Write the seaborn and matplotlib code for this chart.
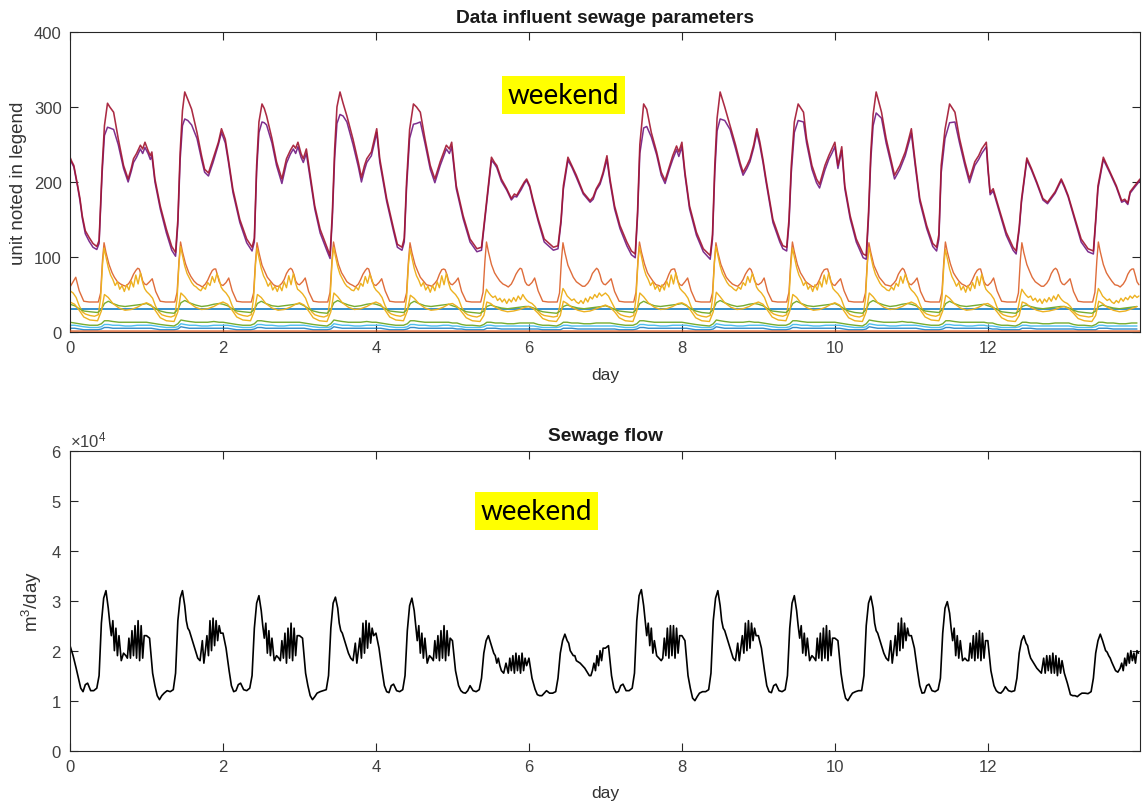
import matplotlib
matplotlib.use("Agg")
import matplotlib.pyplot as plt
import seaborn as sns
import pandas as pd
from matplotlib.ticker import ScalarFormatter

sns.set_theme(style="white")
plt.rcParams['font.family'] = ['Liberation Sans', 'DejaVu Sans']
plt.rcParams['mathtext.fontset'] = 'custom'
plt.rcParams['mathtext.rm'] = 'Liberation Sans'
plt.rcParams['mathtext.it'] = 'Liberation Sans:italic'

# ---------------------------------------------------------------- data
DAY_INDEX = list(range(14))
X_TICKS = [0, 2, 4, 6, 8, 10, 12]
TOP_Y_TICKS = [0, 100, 200, 300, 400]
FLOW_Y_TICKS = [0, 10000, 20000, 30000, 40000, 50000, 60000]
SI_CONST = 30

# dark red / maroon series (explicit day, value points)
MAROON_T = [
    [0.00, 0.02, 0.05, 0.10, 0.13, 0.16, 0.20, 0.25, 0.30, 0.35, 0.38, 0.42, 0.45, 0.49, 0.52, 0.57, 0.63, 0.70, 0.76, 0.80, 0.83, 0.87, 0.92, 0.95, 0.98],
    [1.02, 1.05, 1.07, 1.11, 1.18, 1.26, 1.33, 1.38, 1.41, 1.44, 1.47, 1.50, 1.54, 1.59, 1.66, 1.72, 1.76, 1.81, 1.87, 1.91, 1.94, 1.98],
    [2.03, 2.07, 2.13, 2.22, 2.31, 2.38, 2.41, 2.44, 2.47, 2.51, 2.54, 2.57, 2.64, 2.70, 2.77, 2.83, 2.88, 2.92, 2.95, 2.98],
    [3.02, 3.05, 3.09, 3.14, 3.20, 3.27, 3.36, 3.40, 3.43, 3.46, 3.49, 3.53, 3.57, 3.62, 3.70, 3.77, 3.81, 3.85, 3.88, 3.94, 3.98],
    [4.01, 4.05, 4.14, 4.23, 4.28, 4.34, 4.37, 4.40, 4.44, 4.49, 4.53, 4.58, 4.64, 4.71, 4.77, 4.84, 4.88, 4.92, 4.96, 4.99],
    [5.05, 5.14, 5.23, 5.32, 5.38, 5.42, 5.45, 5.51, 5.55, 5.58, 5.64, 5.71, 5.77, 5.81, 5.84, 5.90, 5.94, 5.97],
    [6.01, 6.05, 6.12, 6.20, 6.32, 6.38, 6.42, 6.45, 6.51, 6.56, 6.62, 6.71, 6.80, 6.84, 6.88, 6.93, 6.97, 7.02],
    [7.06, 7.12, 7.19, 7.28, 7.34, 7.39, 7.42, 7.45, 7.50, 7.54, 7.60, 7.67, 7.73, 7.78, 7.84, 7.88, 7.93, 7.96, 8.00],
    [8.04, 8.10, 8.19, 8.28, 8.37, 8.40, 8.43, 8.46, 8.50, 8.56, 8.63, 8.70, 8.76, 8.80, 8.85, 8.89, 8.94, 8.98],
    [9.02, 9.06, 9.10, 9.19, 9.28, 9.32, 9.37, 9.40, 9.43, 9.47, 9.52, 9.59, 9.63, 9.70, 9.76, 9.80, 9.87, 9.92, 9.96, 10.00],
    [10.04, 10.09, 10.13, 10.20, 10.28, 10.37, 10.41, 10.44, 10.47, 10.50, 10.54, 10.61, 10.67, 10.74, 10.78, 10.85, 10.92, 10.96, 11.00],
    [11.05, 11.11, 11.20, 11.28, 11.33, 11.36, 11.39, 11.44, 11.50, 11.57, 11.63, 11.70, 11.76, 11.83, 11.88, 11.92, 11.98],
    [12.00, 12.03, 12.07, 12.16, 12.24, 12.33, 12.37, 12.41, 12.44, 12.51, 12.57, 12.64, 12.72, 12.78, 12.83, 12.88, 12.96, 13.00],
    [13.05, 13.14, 13.22, 13.31, 13.38, 13.41, 13.44, 13.51, 13.60, 13.68, 13.75, 13.79, 13.83, 13.86, 13.92, 13.99],
]
MAROON_V = [
    [233, 228, 222, 195, 178, 155, 135, 126, 118, 114, 122, 220, 275, 305, 300, 293, 258, 222, 204, 218, 231, 238, 249, 244, 253],
    [242, 235, 240, 204, 168, 137, 114, 106, 150, 240, 295, 320, 310, 297, 266, 235, 217, 212, 231, 244, 253, 271],
    [257, 231, 190, 150, 124, 113, 125, 222, 280, 304, 298, 288, 258, 227, 204, 231, 242, 249, 245, 253],
    [238, 231, 244, 209, 168, 137, 113, 102, 160, 244, 300, 320, 305, 288, 257, 226, 206, 222, 231, 240, 258],
    [271, 231, 178, 138, 117, 113, 125, 200, 270, 304, 300, 293, 258, 222, 204, 227, 238, 249, 244, 253],
    [195, 155, 124, 111, 113, 150, 177, 233, 226, 222, 204, 191, 178, 184, 182, 193, 200, 204],
    [195, 178, 151, 124, 113, 115, 150, 195, 233, 222, 209, 186, 175, 180, 191, 200, 213, 235],
    [204, 168, 142, 120, 108, 104, 160, 250, 304, 297, 266, 240, 213, 202, 222, 235, 248, 240, 253],
    [213, 168, 133, 111, 102, 130, 222, 285, 320, 300, 275, 250, 226, 213, 222, 231, 250, 271],
    [253, 230, 204, 150, 124, 115, 113, 150, 222, 280, 304, 293, 258, 222, 204, 197, 222, 235, 244, 253],
    [222, 247, 195, 155, 124, 104, 102, 160, 240, 290, 320, 293, 258, 227, 209, 222, 240, 255, 271],
    [227, 178, 142, 118, 113, 130, 222, 270, 304, 293, 258, 227, 204, 227, 235, 244, 253],
    [222, 186, 191, 160, 133, 113, 108, 140, 177, 232, 218, 200, 178, 173, 180, 187, 204, 195],
    [182, 151, 124, 111, 108, 150, 195, 233, 213, 195, 175, 177, 172, 187, 195, 204],
]
# purple series, read at the same instants as the maroon one
PURPLE_V = [
    [230, 226, 220, 193, 175, 152, 131, 121, 113, 110, 118, 212, 262, 273, 272, 270, 250, 218, 200, 214, 226, 233, 244, 238, 246],
    [238, 230, 235, 200, 164, 132, 109, 101, 144, 230, 275, 284, 282, 276, 258, 230, 213, 208, 226, 240, 250, 266],
    [252, 227, 186, 146, 119, 108, 120, 214, 266, 280, 279, 276, 252, 222, 198, 225, 237, 244, 238, 247],
    [233, 226, 238, 204, 164, 132, 108, 98, 152, 232, 278, 290, 288, 280, 250, 220, 200, 216, 226, 235, 252],
    [266, 226, 174, 134, 113, 109, 120, 192, 258, 277, 278, 280, 252, 217, 199, 222, 233, 244, 238, 247],
    [191, 151, 120, 107, 109, 146, 173, 229, 224, 219, 201, 189, 176, 181, 180, 190, 198, 202],
    [193, 175, 148, 120, 109, 111, 146, 190, 229, 220, 206, 184, 173, 177, 189, 197, 210, 230],
    [200, 164, 138, 115, 103, 99, 154, 238, 272, 274, 260, 236, 209, 198, 218, 230, 243, 234, 247],
    [209, 164, 129, 107, 97, 124, 212, 268, 284, 282, 270, 245, 222, 209, 218, 227, 246, 266],
    [248, 226, 200, 146, 120, 111, 108, 144, 212, 266, 282, 280, 252, 217, 199, 192, 216, 230, 238, 247],
    [218, 242, 191, 151, 120, 99, 97, 152, 230, 275, 292, 285, 252, 222, 204, 217, 235, 250, 265],
    [222, 174, 138, 114, 108, 124, 212, 258, 279, 280, 252, 222, 199, 222, 230, 238, 247],
    [218, 183, 188, 157, 129, 109, 104, 136, 173, 229, 216, 198, 176, 171, 178, 185, 202, 193],
    [180, 148, 120, 107, 104, 146, 191, 230, 211, 193, 173, 175, 170, 185, 193, 202],
]

# orange series (floor at 40), read at these fractions of each day
ORANGE_FRAC = [0.00, 0.04, 0.075, 0.12, 0.18, 0.25, 0.32, 0.37, 0.40, 0.425, 0.445, 0.47, 0.51, 0.55,
               0.58, 0.62, 0.66, 0.70, 0.73, 0.77, 0.80, 0.83, 0.86, 0.885, 0.905, 0.93, 0.95, 0.975]
ORANGE_ROWS = [
    [60, 67, 73, 55, 41, 40, 40, 40, 52, 96, 119, 106, 90, 79, 73, 67, 64, 62, 61, 65, 70, 77, 82, 85, 84, 76, 68, 64],
    [63, 67, 71, 54, 41, 40, 40, 40, 53, 95, 120, 107, 91, 80, 74, 68, 64, 62, 60, 64, 69, 76, 82, 84, 84, 75, 67, 63],
    [62, 66, 72, 55, 41, 40, 40, 40, 52, 94, 119, 106, 89, 80, 73, 68, 63, 61, 61, 65, 70, 78, 83, 85, 83, 76, 68, 64],
    [63, 67, 72, 54, 41, 40, 40, 40, 53, 96, 120, 107, 90, 79, 74, 67, 64, 62, 60, 64, 70, 77, 82, 85, 84, 75, 67, 63],
    [62, 66, 71, 55, 41, 40, 40, 40, 52, 95, 119, 106, 90, 80, 73, 68, 63, 62, 61, 65, 69, 77, 83, 84, 83, 76, 68, 64],
    [63, 67, 72, 54, 41, 40, 40, 40, 53, 95, 120, 107, 90, 79, 74, 68, 64, 62, 60, 64, 70, 77, 82, 85, 84, 75, 67, 63],
    [62, 66, 72, 55, 41, 40, 40, 40, 52, 96, 119, 106, 89, 80, 73, 67, 64, 61, 61, 65, 70, 78, 82, 85, 83, 76, 68, 64],
    [63, 67, 71, 54, 41, 40, 40, 40, 53, 95, 120, 107, 91, 79, 74, 68, 63, 62, 60, 64, 69, 77, 83, 84, 84, 75, 67, 63],
    [62, 67, 72, 55, 41, 40, 40, 40, 52, 94, 119, 106, 90, 80, 73, 68, 64, 62, 61, 65, 70, 77, 82, 85, 83, 76, 68, 64],
    [63, 66, 72, 54, 41, 40, 40, 40, 53, 96, 120, 107, 90, 79, 74, 67, 64, 61, 60, 64, 70, 78, 83, 84, 84, 75, 67, 63],
    [62, 67, 71, 55, 41, 40, 40, 40, 52, 95, 119, 106, 89, 80, 73, 68, 63, 62, 61, 65, 69, 77, 82, 85, 83, 76, 68, 64],
    [63, 67, 72, 54, 41, 40, 40, 40, 53, 95, 120, 107, 91, 79, 74, 68, 64, 62, 60, 64, 70, 77, 82, 84, 84, 75, 67, 63],
    [62, 66, 72, 55, 41, 40, 40, 40, 52, 96, 119, 106, 90, 80, 73, 67, 64, 61, 61, 65, 70, 78, 83, 85, 83, 76, 68, 64],
    [63, 67, 71, 54, 41, 40, 40, 40, 53, 95, 120, 107, 90, 79, 74, 68, 63, 62, 60, 64, 69, 77, 82, 84, 84, 75, 67, 63],
]

# noisy yellow series
YELLOW_FRAC = [0.00, 0.04, 0.08, 0.12, 0.16, 0.20, 0.26, 0.32, 0.37, 0.40, 0.425, 0.445, 0.47, 0.50, 0.53,
               0.56, 0.59, 0.62, 0.65, 0.68, 0.71, 0.74, 0.77, 0.80, 0.83, 0.86, 0.89, 0.92, 0.95, 0.975]
YELLOW_HI_ROWS = [
    [55, 52, 46, 35, 27, 24, 22, 21, 23, 45, 90, 112, 100, 86, 76, 70, 62, 67, 57, 62, 54, 63, 56, 68, 60, 76, 64, 79, 66, 58],
    [54, 50, 45, 34, 27, 23, 21, 20, 22, 44, 92, 114, 102, 88, 78, 72, 66, 62, 60, 57, 55, 60, 57, 66, 62, 74, 66, 78, 70, 60],
    [56, 52, 46, 35, 27, 24, 22, 21, 23, 45, 90, 112, 99, 85, 75, 69, 61, 66, 56, 61, 54, 62, 55, 67, 59, 75, 63, 78, 65, 57],
    [55, 51, 45, 34, 27, 23, 21, 20, 22, 44, 91, 113, 101, 87, 77, 71, 65, 61, 59, 56, 55, 60, 56, 65, 61, 74, 65, 77, 69, 60],
    [56, 52, 46, 35, 27, 24, 22, 21, 23, 45, 90, 111, 99, 85, 75, 69, 61, 66, 56, 61, 53, 62, 55, 67, 59, 75, 63, 78, 65, 57],
    [54, 50, 44, 33, 26, 23, 21, 20, 22, 34, 48, 57, 53, 49, 46, 48, 42, 45, 40, 44, 38, 44, 40, 46, 41, 48, 43, 50, 45, 42],
    [40, 38, 34, 28, 24, 22, 21, 20, 21, 33, 48, 58, 54, 48, 45, 42, 44, 40, 38, 42, 38, 45, 40, 47, 44, 50, 46, 52, 48, 50],
    [52, 48, 40, 32, 26, 23, 21, 20, 22, 45, 92, 114, 101, 86, 76, 70, 62, 67, 57, 62, 54, 63, 56, 68, 60, 76, 64, 79, 66, 58],
    [55, 51, 45, 34, 27, 23, 21, 20, 22, 44, 92, 114, 102, 88, 78, 72, 66, 62, 60, 57, 55, 60, 57, 66, 62, 74, 66, 78, 70, 60],
    [56, 52, 46, 35, 27, 24, 22, 21, 23, 45, 90, 112, 100, 86, 76, 70, 62, 67, 57, 62, 54, 63, 56, 68, 60, 76, 64, 79, 66, 58],
    [55, 51, 45, 34, 27, 23, 21, 20, 22, 44, 91, 113, 101, 87, 77, 71, 65, 61, 59, 56, 55, 60, 56, 65, 61, 74, 65, 77, 69, 60],
    [56, 52, 46, 35, 27, 24, 22, 21, 23, 45, 89, 110, 98, 84, 74, 68, 61, 66, 56, 61, 53, 62, 55, 66, 58, 74, 62, 77, 64, 57],
    [54, 50, 44, 33, 26, 23, 21, 20, 22, 34, 48, 57, 53, 49, 46, 48, 42, 45, 40, 44, 38, 44, 40, 46, 41, 48, 43, 50, 45, 42],
    [40, 38, 34, 28, 24, 22, 21, 20, 21, 33, 48, 58, 54, 48, 45, 42, 44, 40, 38, 42, 39, 45, 41, 46, 43, 48, 45, 49, 46, 48],
]

# smoother low series
LOW_FRAC = [0.00, 0.06, 0.12, 0.18, 0.26, 0.36, 0.41, 0.45, 0.50, 0.56, 0.64, 0.72, 0.80, 0.88, 0.95]
YELLOW_LO_ROWS = [
    [40, 37, 29, 20, 16, 15, 28, 50, 46, 38, 32, 29, 30, 33, 37],
    [39, 36, 28, 19, 15, 14, 27, 52, 47, 39, 33, 30, 31, 34, 38],
    [40, 37, 29, 20, 16, 15, 28, 50, 46, 38, 32, 29, 30, 33, 37],
    [39, 36, 28, 19, 15, 14, 27, 52, 47, 39, 33, 30, 31, 34, 38],
    [40, 37, 29, 20, 16, 15, 28, 49, 45, 38, 32, 29, 30, 33, 37],
    [38, 34, 27, 19, 15, 14, 22, 40, 38, 33, 29, 27, 28, 30, 33],
    [34, 31, 25, 18, 15, 14, 22, 41, 38, 33, 29, 27, 28, 31, 34],
    [36, 33, 27, 19, 15, 14, 28, 52, 47, 39, 33, 30, 31, 34, 38],
    [39, 36, 28, 19, 15, 14, 27, 53, 47, 39, 33, 30, 31, 34, 38],
    [40, 37, 29, 20, 16, 15, 28, 50, 46, 38, 32, 29, 30, 33, 37],
    [39, 36, 28, 19, 15, 14, 27, 52, 47, 39, 33, 30, 31, 34, 38],
    [40, 37, 29, 20, 16, 15, 28, 49, 45, 38, 32, 29, 30, 33, 37],
    [38, 34, 27, 19, 15, 14, 22, 40, 38, 33, 29, 27, 28, 30, 33],
    [34, 31, 25, 18, 15, 14, 22, 41, 38, 33, 29, 27, 28, 31, 34],
]
GREEN_ROWS = [
    [37, 35, 31, 28, 27, 26, 30, 38, 41, 38, 35, 34, 35, 36, 37],
    [38, 35, 31, 28, 26, 25, 30, 39, 42, 39, 36, 34, 35, 37, 38],
    [37, 35, 31, 28, 27, 26, 30, 38, 41, 38, 35, 34, 35, 36, 37],
    [38, 35, 31, 28, 26, 25, 30, 39, 42, 39, 36, 34, 35, 37, 38],
    [37, 35, 31, 28, 27, 26, 30, 38, 41, 38, 35, 34, 35, 36, 37],
    [35, 33, 30, 27, 26, 25, 28, 34, 36, 34, 32, 31, 32, 33, 34],
    [34, 32, 29, 27, 26, 25, 28, 34, 36, 34, 32, 31, 32, 33, 34],
    [35, 33, 30, 28, 27, 26, 30, 38, 41, 38, 35, 34, 35, 36, 37],
    [38, 35, 31, 28, 26, 25, 30, 39, 42, 39, 36, 34, 35, 37, 38],
    [37, 35, 31, 28, 27, 26, 30, 38, 41, 38, 35, 34, 35, 36, 37],
    [38, 35, 31, 28, 26, 25, 30, 39, 42, 39, 36, 34, 35, 37, 38],
    [37, 35, 31, 28, 27, 26, 30, 38, 41, 38, 35, 34, 35, 36, 37],
    [35, 33, 30, 27, 26, 25, 28, 34, 36, 34, 32, 31, 32, 33, 34],
    [34, 32, 29, 27, 26, 25, 28, 34, 36, 34, 32, 31, 32, 33, 34],
]
GREEN_LO_ROWS = [
    [13, 12, 11, 10, 9, 9, 11, 15, 15, 14, 13, 13, 13, 13, 13],
    [13, 12, 11, 10, 9, 8, 11, 16, 15, 14, 13, 13, 13, 14, 13],
    [13, 12, 11, 10, 9, 9, 11, 15, 15, 14, 13, 13, 13, 13, 13],
    [13, 12, 11, 10, 9, 8, 11, 16, 15, 14, 13, 13, 13, 14, 13],
    [13, 12, 11, 10, 9, 9, 11, 15, 15, 14, 13, 13, 13, 13, 13],
    [12, 12, 10, 9, 9, 8, 10, 13, 13, 12, 12, 11, 11, 12, 12],
    [12, 12, 10, 9, 9, 8, 10, 13, 13, 12, 12, 11, 11, 12, 12],
    [12, 12, 11, 10, 9, 9, 11, 15, 15, 14, 13, 13, 13, 13, 13],
    [13, 12, 11, 10, 9, 8, 11, 16, 15, 14, 13, 13, 13, 14, 13],
    [13, 12, 11, 10, 9, 9, 11, 15, 15, 14, 13, 13, 13, 13, 13],
    [13, 12, 11, 10, 9, 8, 11, 16, 15, 14, 13, 13, 13, 14, 13],
    [13, 12, 11, 10, 9, 9, 11, 15, 15, 14, 13, 13, 13, 13, 13],
    [12, 12, 10, 9, 9, 8, 10, 13, 13, 12, 12, 11, 11, 12, 12],
    [12, 12, 10, 9, 9, 8, 10, 13, 13, 12, 12, 11, 11, 12, 12],
]
LIGHTBLUE_ROWS = [
    [9, 9, 8, 7, 6, 6, 7, 10, 10, 9, 9, 8, 8, 9, 9],
    [9, 9, 8, 7, 6, 6, 7, 11, 10, 9, 9, 8, 8, 9, 9],
    [9, 9, 8, 7, 6, 6, 7, 10, 10, 9, 9, 8, 8, 9, 9],
    [9, 9, 8, 7, 6, 6, 7, 11, 10, 9, 9, 8, 8, 9, 9],
    [9, 9, 8, 7, 6, 6, 7, 10, 10, 9, 9, 8, 8, 9, 9],
    [8, 8, 7, 6, 6, 6, 7, 9, 9, 8, 8, 8, 8, 8, 8],
    [8, 8, 7, 6, 6, 6, 7, 9, 9, 8, 8, 8, 8, 8, 8],
    [8, 8, 8, 7, 6, 6, 7, 10, 10, 9, 9, 8, 8, 9, 9],
    [9, 9, 8, 7, 6, 6, 7, 11, 10, 9, 9, 8, 8, 9, 9],
    [9, 9, 8, 7, 6, 6, 7, 10, 10, 9, 9, 8, 8, 9, 9],
    [9, 9, 8, 7, 6, 6, 7, 11, 10, 9, 9, 8, 8, 9, 9],
    [9, 9, 8, 7, 6, 6, 7, 10, 10, 9, 9, 8, 8, 9, 9],
    [8, 8, 7, 6, 6, 6, 7, 9, 9, 8, 8, 8, 8, 8, 8],
    [8, 8, 7, 6, 6, 6, 7, 9, 9, 8, 8, 8, 8, 8, 8],
]
BLUE_LO_ROWS = [
    [5, 5, 4, 3, 3, 3, 4, 6, 6, 5, 5, 5, 5, 5, 5],
    [5, 5, 4, 3, 3, 3, 4, 7, 6, 5, 5, 5, 5, 5, 5],
    [5, 5, 4, 3, 3, 3, 4, 6, 6, 5, 5, 5, 5, 5, 5],
    [5, 5, 4, 3, 3, 3, 4, 7, 6, 5, 5, 5, 5, 5, 5],
    [5, 5, 4, 3, 3, 3, 4, 6, 6, 5, 5, 5, 5, 5, 5],
    [5, 4, 4, 3, 3, 3, 3, 5, 5, 5, 4, 4, 4, 4, 4],
    [4, 4, 4, 3, 3, 3, 3, 5, 5, 5, 4, 4, 4, 4, 4],
    [4, 4, 4, 3, 3, 3, 4, 6, 6, 5, 5, 5, 5, 5, 5],
    [5, 5, 4, 3, 3, 3, 4, 7, 6, 5, 5, 5, 5, 5, 5],
    [5, 5, 4, 3, 3, 3, 4, 6, 6, 5, 5, 5, 5, 5, 5],
    [5, 5, 4, 3, 3, 3, 4, 7, 6, 5, 5, 5, 5, 5, 5],
    [5, 5, 4, 3, 3, 3, 4, 6, 6, 5, 5, 5, 5, 5, 5],
    [5, 4, 4, 3, 3, 3, 3, 5, 5, 5, 4, 4, 4, 4, 4],
    [4, 4, 4, 3, 3, 3, 3, 5, 5, 5, 4, 4, 4, 4, 4],
]

# sewage flow, in units of 1e4 m3/day
FLOW_FRAC = [0.00, 0.04, 0.08, 0.11, 0.14, 0.17, 0.20, 0.23, 0.27, 0.31, 0.35, 0.38, 0.41, 0.44, 0.47, 0.50,
             0.52, 0.54, 0.56, 0.58, 0.60, 0.62, 0.64, 0.67, 0.70, 0.73, 0.75, 0.77, 0.79, 0.81, 0.83, 0.85,
             0.87, 0.89, 0.91, 0.93, 0.95, 0.97]
FLOW_ROWS = [
    [2.10, 1.90, 1.65, 1.45, 1.25, 1.18, 1.32, 1.35, 1.20, 1.20, 1.25, 1.50, 2.55, 3.05, 3.20, 2.85, 2.55, 2.30, 2.60, 2.00, 2.45, 1.90, 2.30, 1.80, 1.95, 1.90, 1.85, 2.25, 1.85, 2.40, 1.90, 2.50, 1.85, 2.60, 1.80, 2.50, 1.85, 2.30],
    [2.30, 2.25, 1.55, 1.30, 1.10, 1.02, 1.10, 1.15, 1.20, 1.18, 1.22, 1.55, 2.60, 3.05, 3.20, 2.90, 2.60, 2.45, 2.40, 2.30, 2.20, 2.10, 2.00, 1.85, 1.80, 2.20, 1.75, 2.00, 2.30, 1.90, 2.60, 2.00, 2.65, 2.10, 2.60, 2.20, 2.50, 2.35],
    [2.35, 2.05, 1.60, 1.30, 1.18, 1.20, 1.32, 1.35, 1.22, 1.20, 1.25, 1.50, 2.45, 2.95, 3.10, 2.80, 2.50, 2.25, 2.55, 1.95, 2.40, 1.90, 2.25, 1.80, 1.90, 1.85, 1.80, 2.20, 1.85, 2.35, 1.75, 2.45, 1.85, 2.55, 1.80, 2.45, 1.90, 2.30],
    [2.30, 2.25, 1.55, 1.30, 1.10, 1.02, 1.08, 1.15, 1.18, 1.20, 1.22, 1.50, 2.45, 2.95, 3.07, 2.85, 2.55, 2.40, 2.35, 2.25, 2.15, 2.05, 1.95, 1.85, 1.80, 2.15, 1.75, 2.00, 2.25, 1.85, 2.55, 1.95, 2.60, 2.05, 2.55, 2.15, 2.45, 2.30],
    [2.35, 2.05, 1.60, 1.30, 1.18, 1.16, 1.30, 1.33, 1.20, 1.18, 1.22, 1.50, 2.40, 2.90, 3.05, 2.80, 2.50, 2.20, 2.50, 1.95, 2.35, 1.85, 2.25, 1.75, 1.90, 1.85, 1.80, 2.20, 1.85, 2.30, 1.80, 2.40, 1.85, 2.50, 1.80, 2.40, 1.90, 2.25],
    [2.20, 1.60, 1.30, 1.20, 1.16, 1.15, 1.20, 1.30, 1.20, 1.18, 1.22, 1.45, 1.95, 2.20, 2.30, 2.15, 2.05, 1.95, 1.90, 1.75, 1.85, 1.70, 1.60, 1.55, 1.75, 1.55, 1.85, 1.60, 1.90, 1.55, 1.95, 1.60, 1.90, 1.55, 1.95, 1.60, 1.85, 1.70],
    [1.85, 1.45, 1.23, 1.12, 1.10, 1.10, 1.15, 1.20, 1.15, 1.15, 1.18, 1.45, 1.95, 2.20, 2.33, 2.20, 2.15, 2.00, 1.95, 1.90, 1.90, 1.80, 1.78, 1.75, 1.70, 1.65, 1.60, 1.55, 1.50, 1.50, 1.60, 1.75, 1.60, 1.90, 1.70, 2.00, 1.80, 2.05],
    [2.05, 2.10, 1.50, 1.25, 1.16, 1.18, 1.30, 1.33, 1.20, 1.20, 1.25, 1.55, 2.60, 3.10, 3.22, 2.90, 2.60, 2.30, 2.55, 2.10, 2.45, 1.95, 2.20, 1.90, 1.85, 1.80, 1.85, 2.25, 1.90, 2.45, 1.85, 2.50, 1.90, 2.50, 1.85, 2.45, 1.95, 2.30],
    [2.30, 2.20, 1.50, 1.25, 1.05, 1.00, 1.08, 1.15, 1.18, 1.18, 1.22, 1.55, 2.60, 3.05, 3.20, 2.90, 2.60, 2.45, 2.40, 2.30, 2.20, 2.10, 2.00, 1.85, 1.80, 2.15, 1.80, 2.05, 2.30, 1.95, 2.55, 2.00, 2.60, 2.05, 2.55, 2.20, 2.45, 2.30],
    [2.30, 2.05, 1.60, 1.30, 1.18, 1.16, 1.30, 1.33, 1.20, 1.18, 1.22, 1.50, 2.45, 2.95, 3.10, 2.80, 2.50, 2.25, 2.50, 1.95, 2.35, 1.90, 2.25, 1.80, 1.90, 1.85, 1.80, 2.25, 1.85, 2.35, 1.80, 2.45, 1.85, 2.50, 1.80, 2.40, 1.90, 2.25],
    [2.25, 2.20, 1.55, 1.25, 1.05, 1.00, 1.08, 1.15, 1.18, 1.20, 1.20, 1.50, 2.50, 2.95, 3.09, 2.85, 2.55, 2.40, 2.35, 2.25, 2.15, 2.05, 1.95, 1.85, 1.80, 2.20, 1.75, 2.00, 2.30, 1.90, 2.55, 2.00, 2.65, 2.05, 2.55, 2.20, 2.45, 2.30],
    [2.30, 2.05, 1.60, 1.30, 1.15, 1.16, 1.30, 1.33, 1.20, 1.18, 1.22, 1.45, 2.35, 2.85, 2.98, 2.75, 2.45, 2.20, 2.45, 1.90, 2.30, 1.85, 2.20, 1.80, 1.85, 1.80, 1.80, 2.15, 1.85, 2.30, 1.80, 2.35, 1.85, 2.40, 1.80, 2.35, 1.85, 2.20],
    [2.20, 1.60, 1.30, 1.20, 1.16, 1.15, 1.20, 1.28, 1.20, 1.18, 1.20, 1.45, 1.95, 2.20, 2.30, 2.15, 2.10, 1.95, 1.85, 1.80, 1.75, 1.70, 1.65, 1.60, 1.55, 1.85, 1.55, 1.90, 1.60, 1.90, 1.55, 1.95, 1.55, 1.90, 1.50, 1.85, 1.55, 1.80],
    [1.55, 1.35, 1.12, 1.10, 1.10, 1.08, 1.12, 1.15, 1.15, 1.14, 1.18, 1.45, 1.95, 2.20, 2.33, 2.20, 2.10, 2.00, 1.97, 1.90, 1.85, 1.77, 1.70, 1.60, 1.57, 1.65, 1.75, 1.60, 1.85, 1.70, 1.95, 1.75, 2.00, 1.80, 1.95, 1.75, 2.00, 1.95],
]
FLOW_SCALE = 1e4

# ---------------------------------------------------------------- helpers
def expand(fracs, rows):
    t, v = [], []
    for d, row in zip(DAY_INDEX, rows):
        assert len(row) == len(fracs), (d, len(row), len(fracs))
        t += [d + f for f in fracs]
        v += list(row)
    return t, v


def flat(nested):
    out = []
    for part in nested:
        out += list(part)
    return out


def line(ax, t, v, color, lw=1.0, z=2, alpha=1.0):
    df = pd.DataFrame({"day": t, "value": v})
    sns.lineplot(data=df, x="day", y="value", ax=ax, color=color, linewidth=lw,
                 estimator=None, sort=False, alpha=alpha, zorder=z, legend=False)


C_BLUE = "#0072BD"
C_ORANGE = "#D95319"
C_YELLOW = "#EDB120"
C_PURPLE = "#7E2F8E"
C_GREEN = "#77AC30"
C_LBLUE = "#4DBEEE"
C_DRED = "#A2142F"

fig = plt.figure(figsize=(11.46, 8.12), dpi=100)
fig.patch.set_facecolor("white")
ax1 = fig.add_axes([0.0611, 0.5899, 0.9337, 0.3695])
ax2 = fig.add_axes([0.0611, 0.0743, 0.9337, 0.3695])

# ---------------- top panel
line(ax1, [0, 13.99], [SI_CONST, SI_CONST], C_BLUE, lw=1.1)
t, v = expand(ORANGE_FRAC, ORANGE_ROWS)
line(ax1, t, v, C_ORANGE, lw=1.0, alpha=0.85)
t, v = expand(YELLOW_FRAC, YELLOW_HI_ROWS)
line(ax1, t, v, C_YELLOW, lw=1.0)
for_t = flat(MAROON_T)
line(ax1, for_t, flat(PURPLE_V), C_PURPLE, lw=1.1)
t, v = expand(LOW_FRAC, GREEN_ROWS)
line(ax1, t, v, C_GREEN, lw=1.0)
t, v = expand(LOW_FRAC, LIGHTBLUE_ROWS)
line(ax1, t, v, C_LBLUE, lw=1.0)
line(ax1, for_t, flat(MAROON_V), C_DRED, lw=1.15, alpha=0.9)
t, v = expand(LOW_FRAC, YELLOW_LO_ROWS)
line(ax1, t, v, C_YELLOW, lw=1.0)
t, v = expand(LOW_FRAC, BLUE_LO_ROWS)
line(ax1, t, v, C_BLUE, lw=1.0, alpha=0.8)
t, v = expand(LOW_FRAC, GREEN_LO_ROWS)
line(ax1, t, v, C_GREEN, lw=1.0)
line(ax1, [0, 13.99], [0, 0], C_ORANGE, lw=2.6, z=3, alpha=0.7)

ax1.set_ylim(0, 400)
ax1.set_yticks(TOP_Y_TICKS)
ax1.set_title("Data influent sewage parameters", fontsize=13.8, fontweight="bold", pad=7, color="#1a1a1a")
ax1.set_ylabel("unit noted in legend", fontsize=13.5, color="#333333")
ax1.set_xlabel("day", fontsize=12.5, color="#333333")

# ---------------- bottom panel
t, v = expand(FLOW_FRAC, FLOW_ROWS)
line(ax2, t, [x * FLOW_SCALE for x in v], "black", lw=1.2)
ax2.set_ylim(0, 60000)
ax2.set_yticks(FLOW_Y_TICKS)
fmt = ScalarFormatter(useMathText=True)
fmt.set_powerlimits((0, 0))
ax2.yaxis.set_major_formatter(fmt)
ax2.yaxis.get_offset_text().set_fontsize(12)
ax2.yaxis.get_offset_text().set_color("#404040")
ax2.set_title("Sewage flow", fontsize=13.8, fontweight="bold", pad=8, color="#1a1a1a")
ax2.set_ylabel("m$^3$/day", fontsize=13.5, color="#333333")
ax2.set_xlabel("day", fontsize=12.5, color="#333333")

for ax in (ax1, ax2):
    ax.set_xlim(0, 13.99)
    ax.set_xticks(X_TICKS)
    ax.grid(False)
    ax.set_facecolor("white")
    ax.tick_params(axis="both", direction="in", length=6, width=0.8, top=True, right=True,
                   bottom=True, left=True, labelsize=12, color="#262626", labelcolor="#404040", pad=6)
    for s in ax.spines.values():
        s.set_visible(True)
        s.set_color("#262626")
        s.set_linewidth(0.8)

ax1.yaxis.set_label_coords(-0.040, 0.5)
ax2.yaxis.set_label_coords(-0.024, 0.5)
ax1.xaxis.set_label_coords(0.5, -0.115)
ax2.xaxis.set_label_coords(0.5, -0.115)

# ---------------- weekend labels
box = dict(boxstyle="square,pad=0.2", facecolor="#FFFF00", edgecolor="none")
fig.text(563.5 / 1146, 1 - 96 / 812, "weekend", fontsize=20, family=["Lato", "DejaVu Sans"],
         ha="center", va="center", color="black", bbox=box)
fig.text(536.5 / 1146, 1 - 512 / 812, "weekend", fontsize=20, family=["Lato", "DejaVu Sans"],
         ha="center", va="center", color="black", bbox=box)

fig.savefig("out.png", dpi=100, facecolor="white")
